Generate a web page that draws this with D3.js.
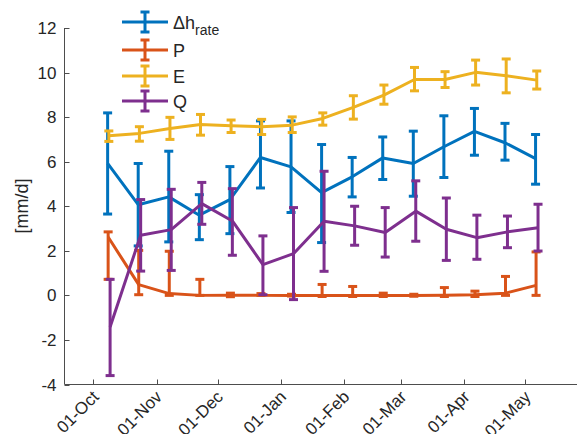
<!DOCTYPE html>
<html>
<head>
<meta charset="utf-8">
<script src="https://cdn.jsdelivr.net/npm/d3@7"></script>
<style>
  body { margin: 0; background: #fff; }
  text { font-family: "Liberation Sans", Arial, sans-serif; fill: #262626; }
</style>
</head>
<body>
<div id="container"></div>
<script>
// sample dates (every 15 days)
const dates = ["2018-10-08", "2018-10-23", "2018-11-07", "2018-11-22", "2018-12-07",
  "2018-12-22", "2019-01-06", "2019-01-21", "2019-02-05", "2019-02-20",
  "2019-03-07", "2019-03-22", "2019-04-06", "2019-04-21", "2019-05-06"];

// Δh_rate
const dhMean = [5.92, 4.07, 4.42, 3.60, 4.30, 6.19, 5.77, 4.61, 5.32, 6.17, 5.92, 6.67, 7.36, 6.85, 6.14];
const dhLow  = [3.65, 2.22, 2.40, 2.50, 2.77, 4.82, 3.72, 2.37, 4.42, 5.20, 4.45, 5.29, 6.29, 6.07, 4.99];
const dhHigh = [8.19, 5.92, 6.47, 4.52, 5.78, 7.83, 7.83, 6.77, 6.19, 7.11, 7.37, 8.06, 8.39, 7.72, 7.22];

// P
const pMean = [2.62, 0.48, 0.08, 0.00, 0.01, 0.00, 0.00, 0.00, 0.00, 0.00, 0.00, 0.01, 0.03, 0.10, 0.45];
const pLow  = [0.72, 0.03, 0.00, 0.00, -0.06, 0.00, -0.03, -0.05, -0.05, -0.05, -0.04, -0.05, -0.05, 0.00, 0.00];
const pHigh = [2.85, 2.02, 1.98, 0.72, 0.10, 0.08, 0.05, 0.49, 0.40, 0.10, 0.05, 0.35, 0.19, 0.85, 1.95];

// E
const eMean = [7.16, 7.27, 7.49, 7.67, 7.61, 7.57, 7.64, 7.94, 8.44, 8.99, 9.69, 9.69, 10.01, 9.86, 9.66];
const eLow  = [6.91, 6.92, 7.00, 7.19, 7.31, 7.22, 7.31, 7.64, 7.91, 8.58, 9.18, 9.33, 9.44, 9.09, 9.26];
const eHigh = [7.38, 7.57, 7.99, 8.12, 7.87, 7.90, 8.01, 8.19, 8.96, 9.44, 10.23, 10.04, 10.56, 10.61, 10.07];

// Q
const qMean = [-1.42, 2.70, 2.95, 4.12, 3.34, 1.38, 1.87, 3.33, 3.12, 2.82, 3.78, 2.97, 2.59, 2.85, 3.04];
const qLow  = [-3.60, 1.09, 1.12, 3.19, 1.80, 0.03, -0.19, 1.08, 2.25, 1.72, 2.43, 1.57, 1.62, 2.14, 1.99];
const qHigh = [0.72, 4.30, 4.76, 5.07, 4.79, 2.67, 3.94, 5.57, 4.00, 3.94, 5.14, 4.37, 3.60, 3.56, 4.09];

const seriesNames = ["Δh", "P", "E", "Q"];
const yTicks = [-4, -2, 0, 2, 4, 6, 8, 10, 12];

const colors = ["#0072BD", "#D95319", "#EDB120", "#7E2F8E"];
// small horizontal shift per series (days), as in the original plot
const shiftDays = [0, 0.25, 0.6, 1.2];

const width = 577, height = 434;
const svg = d3.select("#container").append("svg")
  .attr("width", width)
  .attr("height", height);

const parse = d3.utcParse("%Y-%m-%d");
const x = d3.scaleUtc()
  .domain([new Date(Date.UTC(2018, 8, 16, 20)), new Date(Date.UTC(2019, 4, 26, 8))])
  .range([64.5, 577]);
const y = d3.scaleLinear().domain([-4, 12]).range([384.5, 28]);

// axes
const axisColor = "#4d4d4d";
const yAxis = svg.append("g").attr("transform", "translate(64.5,0)");
yAxis.append("line").attr("y1", y(-4)).attr("y2", y(12)).attr("stroke", axisColor);
yAxis.selectAll(".tk").data(yTicks).enter().append("line")
  .attr("x1", 0).attr("x2", 5)
  .attr("y1", d => Math.round(y(d)) + 0.5).attr("y2", d => Math.round(y(d)) + 0.5)
  .attr("stroke", axisColor);
yAxis.selectAll("text").data(yTicks).enter().append("text")
  .attr("x", -8).attr("y", d => y(d))
  .attr("dy", "0.36em")
  .attr("text-anchor", "end")
  .style("font-size", "17px")
  .text(d => d);

const monthTicks = d3.utcMonth.range(new Date(Date.UTC(2018, 9, 1)), new Date(Date.UTC(2019, 4, 2)));
const xAxis = svg.append("g").attr("transform", "translate(0,384.5)");
xAxis.append("line").attr("x1", 64.5).attr("x2", width).attr("stroke", axisColor);
xAxis.selectAll(".tk").data(monthTicks).enter().append("line")
  .attr("x1", d => Math.round(x(d)) + 0.5).attr("x2", d => Math.round(x(d)) + 0.5)
  .attr("y1", 0).attr("y2", -5)
  .attr("stroke", axisColor);
xAxis.selectAll("text").data(monthTicks).enter().append("text")
  .attr("transform", d => `translate(${x(d) - 2},${5}) rotate(-45)`)
  .attr("text-anchor", "end")
  .attr("dy", "0.7em")
  .style("font-size", "17px")
  .text(d3.utcFormat("%d-%b"));

svg.append("text")
  .attr("transform", `translate(22,206) rotate(-90)`)
  .attr("text-anchor", "middle")
  .attr("dy", "0.35em")
  .style("font-size", "18px")
  .text("[mm/d]");

// series
const series = [
  { mean: dhMean, low: dhLow, high: dhHigh },
  { mean: pMean, low: pLow, high: pHigh },
  { mean: eMean, low: eLow, high: eHigh },
  { mean: qMean, low: qLow, high: qHigh }
];

const capW = 4.5;
const line = d3.line().x(d => d.x).y(d => d.y);

series.forEach((s, i) => {
  const pts = dates.map((dt, j) => {
    const t = d3.utcHour.offset(parse(dt), Math.round(shiftDays[i] * 24));
    return { x: x(t), y: y(s.mean[j]), lo: y(s.low[j]), hi: y(s.high[j]) };
  });
  const g = svg.append("g")
    .attr("stroke", colors[i])
    .attr("stroke-width", 3)
    .attr("fill", "none");
  g.append("path").attr("d", line(pts)).attr("stroke-linejoin", "round");
  const eb = g.selectAll(".eb").data(pts).enter().append("g");
  eb.append("line").attr("x1", d => d.x).attr("x2", d => d.x).attr("y1", d => d.lo).attr("y2", d => d.hi);
  eb.append("line").attr("x1", d => d.x - capW).attr("x2", d => d.x + capW).attr("y1", d => d.lo).attr("y2", d => d.lo);
  eb.append("line").attr("x1", d => d.x - capW).attr("x2", d => d.x + capW).attr("y1", d => d.hi).attr("y2", d => d.hi);
});

// legend
const legend = svg.append("g");
const legY = [22, 50, 76, 101];
seriesNames.forEach((name, i) => {
  const g = legend.append("g").attr("transform", `translate(0,${legY[i]})`);
  const st = g.append("g").attr("stroke", colors[i]).attr("stroke-width", 3);
  st.append("line").attr("x1", 122).attr("x2", 168).attr("y1", 0).attr("y2", 0);
  st.append("line").attr("x1", 145).attr("x2", 145).attr("y1", -10).attr("y2", 10);
  st.append("line").attr("x1", 145 - capW).attr("x2", 145 + capW).attr("y1", -10).attr("y2", -10);
  st.append("line").attr("x1", 145 - capW).attr("x2", 145 + capW).attr("y1", 10).attr("y2", 10);
  const t = g.append("text").attr("x", 173).attr("y", 7).style("font-size", "18px").text(name);
  if (i === 0) {
    t.append("tspan").attr("dy", 6).style("font-size", "14px").text("rate");
  }
});
</script>
</body>
</html>
